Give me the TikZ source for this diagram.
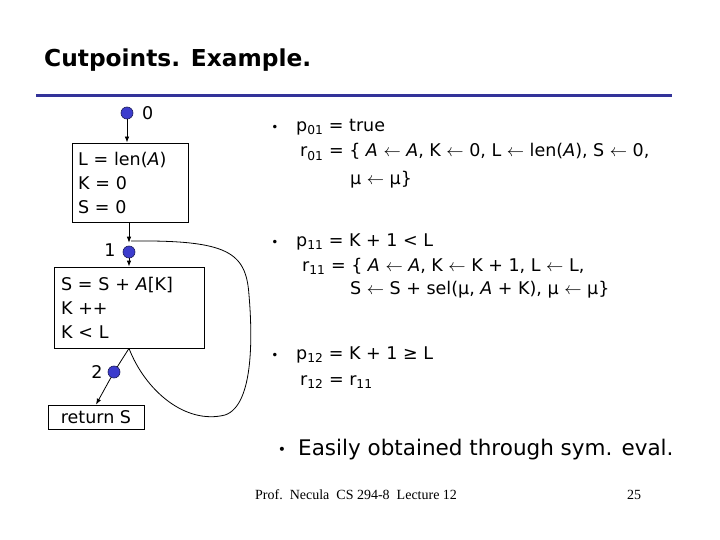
\documentclass[tikz,border=0pt]{standalone}
\usepackage{fontspec}
\setmainfont{DejaVu Sans}
\newfontfamily\timesf{Liberation Serif}
\usetikzlibrary{arrows.meta}
\definecolor{rulec}{RGB}{51,51,153}
\definecolor{dotc}{RGB}{60,60,205}
\newcommand{\sbs}[1]{\textsubscript{#1}}
\newcommand{\la}{ $\leftarrow$ }
\begin{document}
\begin{tikzpicture}[x=1pt,y=-1pt,
  dot/.style={circle,fill=dotc,draw=dotc!45!black,line width=0.6pt,inner sep=0pt,minimum size=12pt},
  lbl/.style={font=\fontsize{17.5}{20}\selectfont,inner sep=0pt},
  box/.style={draw,line width=0.8pt,inner xsep=6pt,inner ysep=0pt,font=\fontsize{17.5}{24}\selectfont,align=left},
  arr/.style={-{Latex[length=6pt,width=4.5pt]},line width=0.8pt},
  con/.style={line width=0.8pt},
  txt/.style={anchor=west,inner sep=0pt,font=\fontsize{17.5}{20}\selectfont},
  bul/.style={inner sep=0pt,font=\fontsize{12}{14}\selectfont},
  foot/.style={anchor=west,inner sep=0pt,font=\timesf\fontsize{14}{16}\selectfont}]
\useasboundingbox (0,0) rectangle (720,540);
\fill[white] (0,0) rectangle (720,540);
% title and rule
\node[anchor=west,inner sep=0pt,font=\bfseries\fontsize{23.3}{28}\selectfont] (title) at (44,60) {Cutpoints. Example.};
\coordinate (r1) at (36,96);
\coordinate (r2) at (672,96);
\draw[rulec,line width=3pt] (r1) -- (r2);
% flow graph
\node[dot] (d0) at (127,113) {};
\node[lbl,anchor=west] (l0) at (142,113) {0};
\node[box,minimum width=116pt,minimum height=79pt,text width=104pt] (b1) at (130,182.5) {L = len(\textit{A})\\K = 0\\S = 0};
\node[dot] (d1) at (129,252) {};
\node[lbl] (l1) at (110,250) {1};
\node[box,minimum width=150pt,minimum height=81pt,text width=136pt] (b2) at (129,307.5) {S = S + \textit{A}[K]\\K ++\\K < L};
\node[dot] (d2) at (114,372) {};
\node[lbl] (l2) at (97,372) {2};
\node[box,minimum width=96pt,minimum height=24pt] (b3) at (96,417) {return S};
\coordinate (lend) at (131,241);
\draw[arr] (d0) -- (d0 |- b1.north);
\draw[arr,shorten >=3pt] (d1 |- b1.south) -- (d1.north);
\draw[arr] (d1) -- (d1 |- b2.north);
\draw[con] (b2.south) -- (d2);
\draw[arr] (d2) -- (b3.north);
\draw[con] (b2.south) .. controls (145,390) and (185,425) .. (225,415)
  .. controls (255,405) and (252,330) .. (249,295)
  .. controls (246,252) and (228,240) .. (lend);
% right text
\node[bul] (bu1) at (275,128) {•};
\node[txt] (p01) at (296,127) {p\sbs{01} = true};
\node[txt] (r01) at (300,152) {r\sbs{01} = \{ \textit{A}\la\textit{A}, K\la 0, L\la len(\textit{A}), S\la 0,};
\node[txt] (m01) at (350,180) {μ\la μ\}};
\node[bul] (bu2) at (275,243) {•};
\node[txt] (p11) at (296,242) {p\sbs{11} = K + 1 < L};
\node[txt] (r11) at (302,266) {r\sbs{11} = \{ \textit{A}\la\textit{A}, K\la K + 1, L\la L,};
\node[txt] (s11) at (350,290) {S\la S + sel(μ, \textit{A} + K), μ\la μ\}};
\node[bul] (bu3) at (275,356) {•};
\node[txt] (p12) at (296,355) {p\sbs{12} = K + 1 ≥ L};
\node[txt] (r12) at (300,382) {r\sbs{12} = r\sbs{11}};
\node[bul,font=\fontsize{14}{16}\selectfont] (bu4) at (282,451) {•};
\node[txt,font=\fontsize{21.5}{26}\selectfont] (easy) at (298,450) {Easily obtained through sym. eval.};
% footer
\node[foot] (ft) at (255,495) {Prof.\ \ Necula\ \ CS 294-8\ \ Lecture 12};
\node[foot] (pg) at (627,495) {25};
\end{tikzpicture}
\end{document}
